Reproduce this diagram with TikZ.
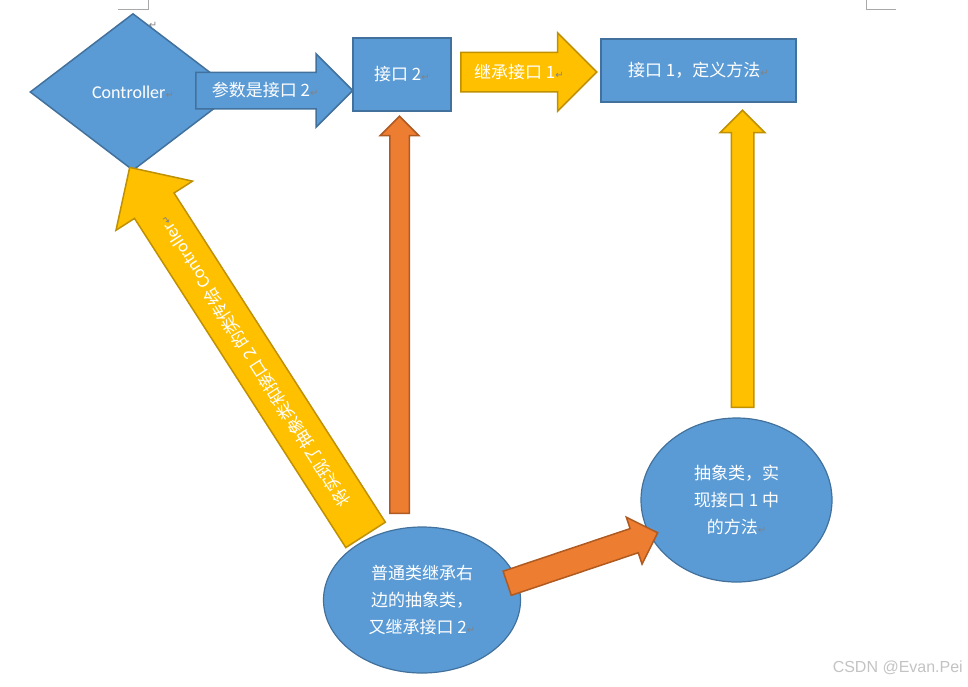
\documentclass[tikz,border=0pt]{standalone}
\usepackage{fontspec}
\setmainfont{Noto Sans CJK SC}
\newfontfamily\latinfont{Carlito}
\newfontfamily\markfont{DejaVu Sans}
\newfontfamily\wmfont{Liberation Sans}
\usepackage{xcolor}
\definecolor{ms-blue}{RGB}{91,155,213}
\definecolor{ms-blue-dk}{RGB}{65,113,156}
\definecolor{ms-gold}{RGB}{255,192,0}
\definecolor{ms-gold-dk}{RGB}{191,144,0}
\definecolor{ms-orange}{RGB}{237,125,49}
\definecolor{ms-orange-dk}{RGB}{174,90,33}
\definecolor{mark-gray}{RGB}{130,130,130}
\definecolor{wm-gray}{RGB}{195,195,195}
\usetikzlibrary{shapes.geometric,shapes.arrows}
\newcommand{\pmark}{{\markfont\fontsize{10}{10}\selectfont\color{mark-gray}↵}}

\begin{document}
\begin{tikzpicture}[x=1pt,y=-1pt,
    every node/.style={text=white,font=\fontsize{17}{27}\selectfont},
    ifbox/.style={rectangle,fill=ms-blue,draw=ms-blue-dk,line width=1.5pt,inner sep=0pt},
    bubble/.style={ellipse,fill=ms-blue,draw=ms-blue-dk,line width=1.2pt,inner sep=0pt,align=center},
    barrow/.style={single arrow,single arrow tip angle=90,inner xsep=0pt,inner ysep=0pt,line width=1.5pt,anchor=tail}]
    \useasboundingbox (0,0) rectangle (968,686);
    % page corner marks
    \draw[mark-gray!70,line width=1pt] (118,9.3) -- (148,9.3) -- (148,0);
    \draw[mark-gray!70,line width=1pt] (866,0) -- (866,9.3) -- (896,9.3);
    \node[inner sep=0pt] (pm0) at (153,25) {\pmark};

    \node[diamond,fill=ms-blue,draw=ms-blue-dk,line width=1.5pt,minimum width=206pt,minimum height=157pt,inner sep=0pt] (ctrl) at (133,92) {\latinfont\fontsize{18}{18}\selectfont Controller\pmark};
    \node[ifbox,minimum width=98pt,minimum height=73pt] (if2) at (402,74.5) {接口 2\pmark};
    \node[ifbox,minimum width=195pt,minimum height=63pt] (if1) at (698.5,70.5) {接口 1，定义方法\pmark};
    \node[bubble,minimum width=197pt,minimum height=146pt] (cls) at (422,600) {普通类继承右\\边的抽象类，\\ 又继承接口 2\pmark};
    \node[bubble,minimum width=191pt,minimum height=164pt] (abs) at (736.5,500) {抽象类，实\\现接口 1 中\\的方法\pmark};

    % block arrows
    \node[barrow,fill=ms-blue,draw=ms-blue-dk,text height=23.5pt,text depth=11.5pt,single arrow head extend=18.5pt,minimum height=157pt] (argarrow) at (195,90.5) {参数是接口 2\pmark};
    \node[barrow,fill=ms-gold,draw=ms-gold-dk,text height=25pt,text depth=13pt,single arrow head extend=19.5pt,minimum height=136pt] (inharrow) at (460,72) {继承接口 1\pmark};
    \node[barrow,fill=ms-orange,draw=ms-orange-dk,inner ysep=9pt,single arrow head extend=9.5pt,minimum height=397pt,rotate=90] (clsup) at (399.5,514) {};
    \node[barrow,fill=ms-gold,draw=ms-gold-dk,inner ysep=10.5pt,single arrow head extend=11pt,minimum height=297pt,rotate=90] (absup) at (742.5,408) {};
    \node[barrow,fill=ms-orange,draw=ms-orange-dk,inner ysep=12pt,single arrow head extend=12pt,minimum height=158.7pt,rotate=18.55] (clsabs) at (506.5,583.5) {};
    \node[barrow,fill=ms-gold,draw=ms-gold-dk,text height=28.75pt,text depth=16.75pt,single arrow head extend=22pt,minimum height=436.7pt,rotate=122.7] (passarrow) at (366,535.5) {将实现了抽象类和接口 2 的类传给 {\latinfont\fontsize{18}{18}\selectfont Controller}\pmark};

    \node[text=wm-gray,font=\wmfont\fontsize{16}{16}\selectfont,anchor=east,inner sep=0pt] (wm) at (963,668) {CSDN @Evan.Pei};
\end{tikzpicture}
\end{document}
